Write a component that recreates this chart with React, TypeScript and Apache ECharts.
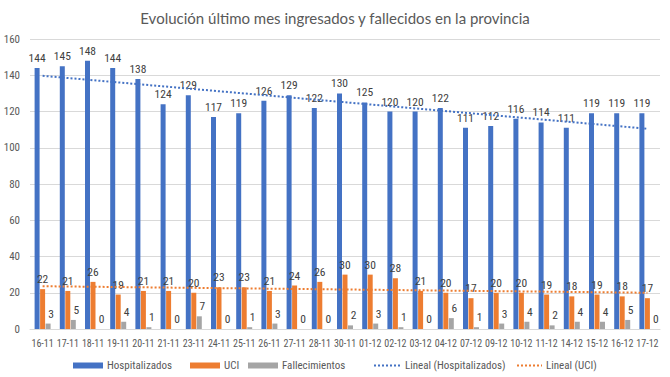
import React, { useEffect, useRef } from "react";
import * as echarts from "echarts";

const categories = ["16-11","17-11","18-11","19-11","20-11","21-11","23-11","24-11","25-11","26-11","27-11","28-11","30-11","01-12","02-12","03-12","04-12","07-12","09-12","10-12","11-12","14-12","15-12","16-12","17-12"];
const hospitalizados = [144,145,148,144,138,124,129,117,119,126,129,122,130,125,120,120,122,111,112,116,114,111,119,119,119];
const uci = [22,21,26,19,21,21,20,23,23,21,24,26,30,30,28,21,20,17,20,20,19,18,19,18,17];
const fallecimientos = [3,5,0,4,1,0,7,0,1,3,0,0,2,3,1,0,6,1,3,4,2,4,4,5,0];
// trend line endpoints (first and last category)
const trendHospEnds = [139.7, 110.5];
const trendUciEnds = [23.6, 20.0];
const yTicks = { min: 0, max: 160, interval: 20 };
const legendNames = ["Hospitalizados", "UCI", "Fallecimientos", "Lineal (Hospitalizados)", "Lineal (UCI)"];

const FONT = "Lato";
const COND = "'Roboto Condensed', Roboto, Lato";
const GREY_TEXT = "#595959";

function endsToSeries(ends: number[]): (number | null)[] {
  return categories.map((_, i) => (i === 0 ? ends[0] : i === categories.length - 1 ? ends[1] : null));
}

export default function App() {
  const ref = useRef<HTMLDivElement>(null);
  useEffect(() => {
    if (!ref.current) return;
    const chart = echarts.init(ref.current, undefined, { renderer: "svg" });
    const label = { show: true, position: "top", distance: 4, color: "#404040", fontSize: 11.5, fontFamily: COND };
    const legendLefts = [68, 185, 243, 368, 511];
    const legendWidths = [30, 30, 30, 27, 25];
    const legends = legendNames.map((name, i) => ({
      left: legendLefts[i],
      top: 355,
      itemGap: 4,
      itemWidth: legendWidths[i],
      itemHeight: 6,
      textStyle: { fontSize: 11, color: GREY_TEXT, fontFamily: COND, padding: [0, 0, 0, -1] },
      data: [i < 3 ? { name, icon: "rect" } : { name, itemStyle: { opacity: 0 } }],
    }));
    chart.setOption({
      animation: false,
      backgroundColor: "#ffffff",
      textStyle: { fontFamily: COND },
      title: {
        text: "Evolución último mes ingresados y fallecidos en la provincia",
        left: "center",
        top: 5,
        textStyle: { fontSize: 15, fontWeight: "normal", color: GREY_TEXT, fontFamily: FONT },
      },
      legend: legends,
      grid: { left: 30, right: 10, top: 39, bottom: 48 },
      xAxis: {
        type: "category",
        data: categories,
        axisLine: { show: true, lineStyle: { color: "#d9d9d9" } },
        axisTick: { show: false },
        axisLabel: { interval: 0, fontSize: 10, color: GREY_TEXT, margin: 9, fontFamily: COND },
      },
      yAxis: {
        type: "value",
        min: yTicks.min,
        max: yTicks.max,
        interval: yTicks.interval,
        axisLine: { show: false },
        axisTick: { show: false },
        axisLabel: { fontSize: 11, color: GREY_TEXT, margin: 10, fontFamily: COND },
        splitLine: { lineStyle: { color: "#d9d9d9" } },
      },
      series: [
        { name: "Hospitalizados", type: "bar", data: hospitalizados, barWidth: 5, barGap: "10%", itemStyle: { color: "#4472C4" }, label },
        { name: "UCI", type: "bar", data: uci, barWidth: 5, barGap: "10%", itemStyle: { color: "#ED7D31" }, label },
        { name: "Fallecimientos", type: "bar", data: fallecimientos, barWidth: 5, barGap: "10%", itemStyle: { color: "#A5A5A5" }, label: { ...label, offset: [3, 0] } },
        {
          name: "Lineal (Hospitalizados)", type: "line", data: endsToSeries(trendHospEnds), connectNulls: true,
          symbol: "none", z: 5, itemStyle: { color: "#4472C4" },
          lineStyle: { color: "#4472C4", width: 2, type: [2, 2] },
        },
        {
          name: "Lineal (UCI)", type: "line", data: endsToSeries(trendUciEnds), connectNulls: true,
          symbol: "none", z: 5, itemStyle: { color: "#ED7D31" },
          lineStyle: { color: "#ED7D31", width: 2, type: [2, 2] },
        },
      ],
    });
    return () => chart.dispose();
  }, []);
  return <div ref={ref} style={{ width: 670, height: 377, position: "absolute", left: 0, top: 0 }} />;
}
